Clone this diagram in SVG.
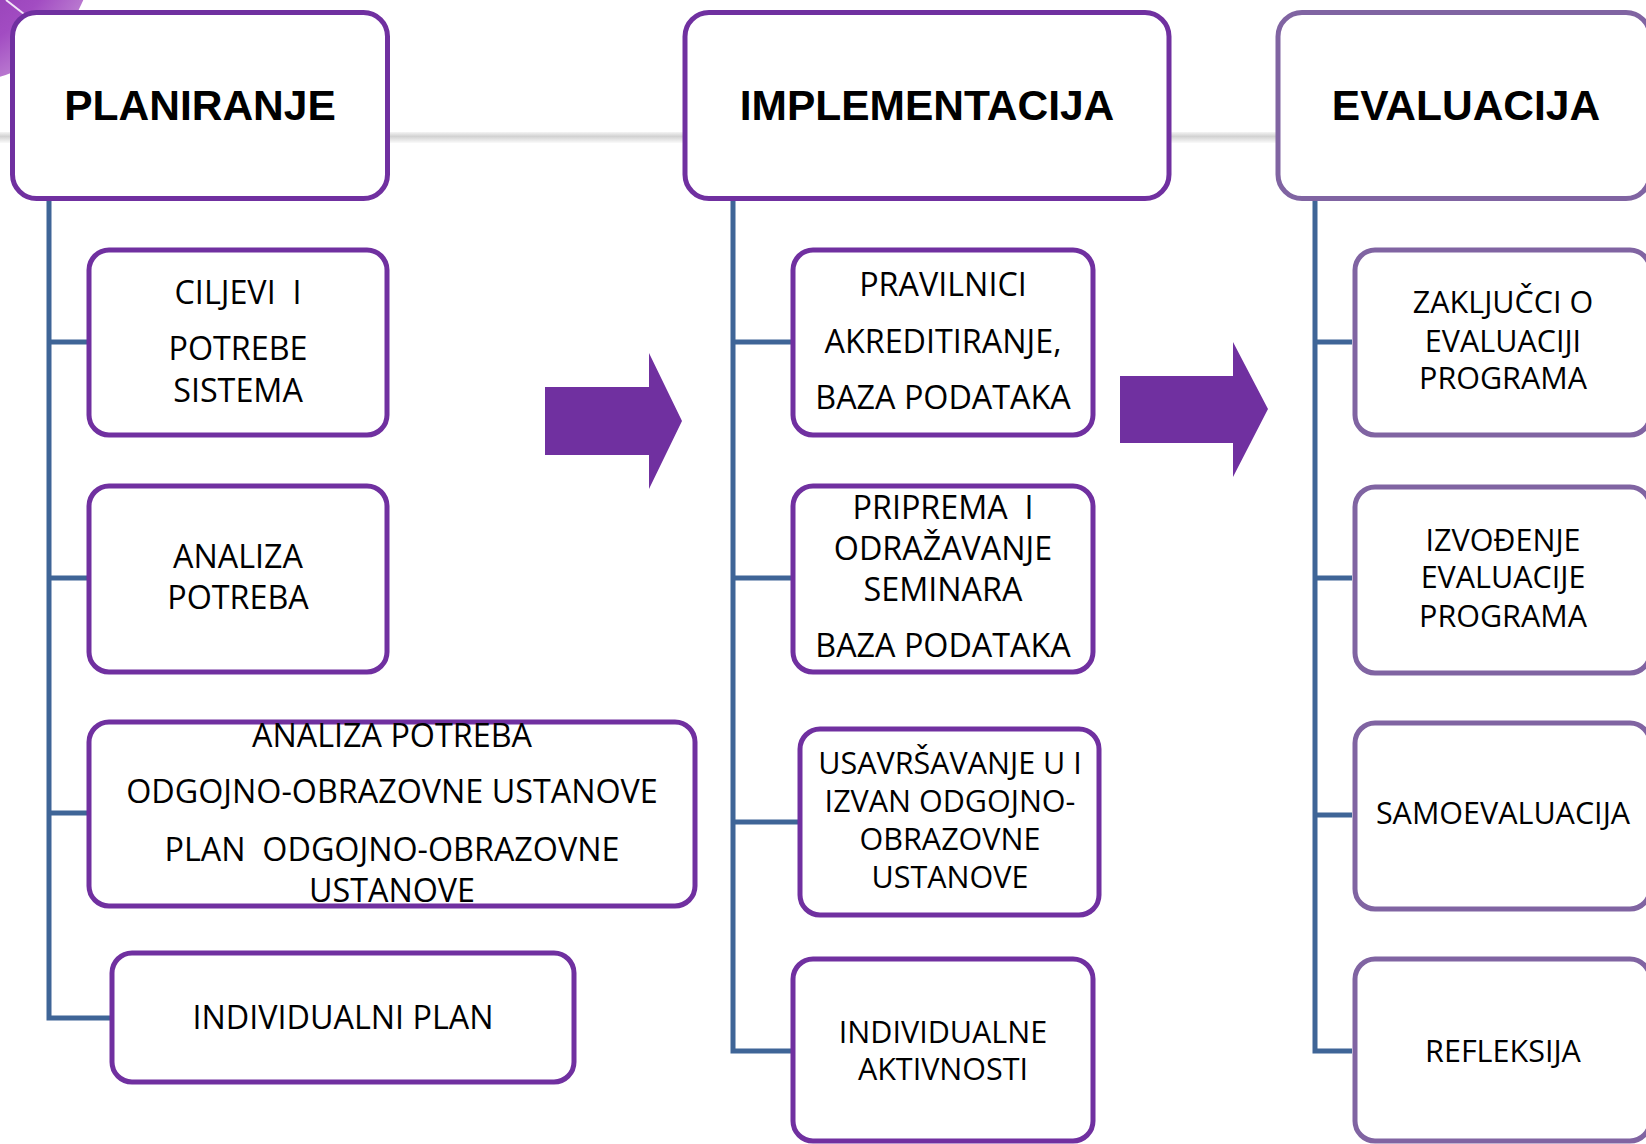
<svg xmlns="http://www.w3.org/2000/svg" width="1646" height="1144" viewBox="0 0 1646 1144">
<defs>
<style>
.hdr{fill:#fff;stroke:#7030a0;stroke-width:5}
.box{fill:#fff;stroke:#7030a0;stroke-width:5}
.ebox{fill:#fff;stroke:#8064a2;stroke-width:5}
.ht{font-family:"Liberation Sans",Arial,sans-serif;font-weight:bold;font-size:42.5px;fill:#000;text-anchor:middle}
.t{font-family:"Open Sans","Liberation Sans",sans-serif;font-size:32.3px;fill:#000;text-anchor:middle;white-space:pre}
.ts{font-family:"Open Sans","Liberation Sans",sans-serif;font-size:30.5px;fill:#000;text-anchor:middle;white-space:pre}
.conn{fill:none;stroke:#3f6597;stroke-width:5;stroke-linejoin:miter}
.arrow{fill:#7030a0}
</style>
<radialGradient id="deco" cx="0.35" cy="0.35" r="0.7">
<stop offset="0" stop-color="#7d2aa0"/>
<stop offset="0.8" stop-color="#a24cc2"/>
<stop offset="1" stop-color="#b877cf"/>
</radialGradient>
<linearGradient id="band" x1="0" y1="0" x2="0" y2="1">
<stop offset="0" stop-color="#f4f4f4"/>
<stop offset="0.4" stop-color="#d2d2d2"/>
<stop offset="1" stop-color="#fafafa"/>
</linearGradient>
</defs>
<rect x="0" y="0" width="1646" height="1144" fill="#fff"/>
<g id="decoration">
<circle cx="-40" cy="-50" r="133" fill="url(#deco)"/>
<line x1="6" y1="0" x2="24" y2="14" stroke="#f2e6f7" stroke-width="2"/>
<rect x="0" y="132" width="1646" height="11" fill="url(#band)"/>
</g>
<g id="connectors">
<path class="conn" d="M49 200 V1018 H110 M49 342 H87 M49 578 H87 M49 813 H87"/>
<path class="conn" d="M733 200 V1051 H791 M733 342 H791 M733 578 H791 M733 822 H798"/>
<path class="conn" d="M1315 200 V1051 H1352 M1315 342 H1352 M1315 578 H1352 M1315 815 H1352"/>
</g>
<g id="arrow1"><polygon class="arrow" points="545,387 649,387 649,353 682,421 649,489 649,455 545,455"/></g>
<g id="arrow2"><polygon class="arrow" points="1120,376 1233,376 1233,342 1268,409 1233,477 1233,443 1120,443"/></g>
<g id="planiranje"><rect class="hdr" x="12.5" y="12.5" width="375" height="186" rx="24"/><text class="ht" x="200" y="120">PLANIRANJE</text></g>
<g id="implementacija"><rect class="hdr" x="685" y="12.5" width="484" height="186" rx="24"/><text class="ht" x="927" y="120">IMPLEMENTACIJA</text></g>
<g id="evaluacija"><rect class="ebox" x="1278" y="12.5" width="372" height="186" rx="24"/><text class="ht" x="1466" y="120">EVALUACIJA</text></g>

<g id="p1"><rect class="box" x="89" y="250" width="298" height="185" rx="20"/><text class="t" x="238" y="304">CILJEVI  I</text><text class="t" x="238" y="360">POTREBE</text><text class="t" x="238" y="402">SISTEMA</text></g>
<g id="p2"><rect class="box" x="89" y="486" width="298" height="186" rx="20"/><text class="t" x="238" y="568">ANALIZA</text><text class="t" x="238" y="609">POTREBA</text></g>
<g id="p3"><rect class="box" x="89" y="722" width="606" height="184" rx="20"/><text class="t" x="392" y="747">ANALIZA POTREBA</text><text class="t" x="392" y="803">ODGOJNO-OBRAZOVNE USTANOVE</text><text class="t" x="392" y="861">PLAN  ODGOJNO-OBRAZOVNE</text><text class="t" x="392" y="902">USTANOVE</text></g>
<g id="p4"><rect class="box" x="112" y="953" width="462" height="129" rx="20"/><text class="t" x="343" y="1029">INDIVIDUALNI PLAN</text></g>

<g id="i1"><rect class="box" x="793" y="250" width="300" height="185" rx="20"/><text class="t" x="943" y="296">PRAVILNICI</text><text class="t" x="943" y="353">AKREDITIRANJE,</text><text class="t" x="943" y="409">BAZA PODATAKA</text></g>
<g id="i2"><rect class="box" x="793" y="486" width="300" height="186" rx="20"/><text class="t" x="943" y="519">PRIPREMA  I</text><text class="t" x="943" y="560">ODRAŽAVANJE</text><text class="t" x="943" y="601">SEMINARA</text><text class="t" x="943" y="657">BAZA PODATAKA</text></g>
<g id="i3"><rect class="box" x="800" y="729" width="299" height="186" rx="20"/><text class="ts" x="950" y="774">USAVRŠAVANJE U I</text><text class="ts" x="950" y="812">IZVAN ODGOJNO-</text><text class="ts" x="950" y="850">OBRAZOVNE</text><text class="ts" x="950" y="888">USTANOVE</text></g>
<g id="i4"><rect class="box" x="793" y="959" width="300" height="182" rx="20"/><text class="ts" x="943" y="1043">INDIVIDUALNE</text><text class="ts" x="943" y="1080">AKTIVNOSTI</text></g>

<g id="e1"><rect class="ebox" x="1355" y="250" width="295" height="185" rx="20"/><text class="ts" x="1503" y="313">ZAKLJUČCI O</text><text class="ts" x="1503" y="352">EVALUACIJI</text><text class="ts" x="1503" y="389">PROGRAMA</text></g>
<g id="e2"><rect class="ebox" x="1355" y="487" width="295" height="186" rx="20"/><text class="ts" x="1503" y="551">IZVOĐENJE</text><text class="ts" x="1503" y="588">EVALUACIJE</text><text class="ts" x="1503" y="627">PROGRAMA</text></g>
<g id="e3"><rect class="ebox" x="1355" y="723" width="295" height="186" rx="20"/><text class="ts" x="1503" y="824">SAMOEVALUACIJA</text></g>
<g id="e4"><rect class="ebox" x="1355" y="959" width="295" height="182" rx="20"/><text class="ts" x="1503" y="1062">REFLEKSIJA</text></g>
</svg>
